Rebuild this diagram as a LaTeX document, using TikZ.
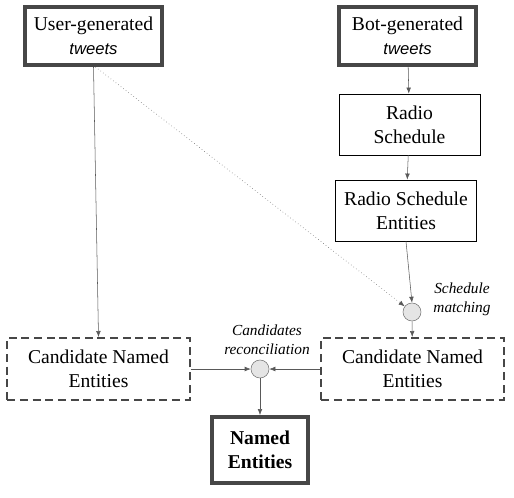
\documentclass[tikz,border=0pt]{standalone}
\usepackage{fontspec}
\setmainfont{Liberation Serif}
\newfontfamily\tweetfont{Liberation Sans}
\usetikzlibrary{arrows.meta,positioning}

\newcommand{\tw}{{\tweetfont\itshape\fontsize{12.5}{15}\selectfont tweets}}

\begin{document}
\begin{tikzpicture}[
  x=0.75pt,y=-0.75pt,
  box/.style={draw,align=center,inner sep=2pt,font=\fontsize{14.7}{18}\selectfont},
  src/.style={box,line width=3pt,draw=black!72,minimum width=103pt,minimum height=43.5pt},
  plain/.style={box,thin,minimum width=106pt,minimum height=46pt},
  cand/.style={box,line width=1.5pt,draw=black!72,dash pattern=on 6pt off 3.5pt,minimum width=137pt,minimum height=46.5pt},
  merge/.style={circle,draw=black!55,fill=black!10,thin,minimum size=13.5pt,inner sep=0pt},
  lbl/.style={align=center,font=\itshape\fontsize{11.5}{14}\selectfont},
  arr/.style={-{Latex[length=4.5pt,width=3.5pt]},draw=black!65,thin}
]
\useasboundingbox (0,0) rectangle (514,497);

\node[src] (user) at (93.5,36) {User-generated\\\tw};
\node[src] (bot) at (407.5,36) {Bot-generated\\\tw};
\node[plain] (radio) at (409.5,124.5) {Radio\\Schedule};
\node[plain] (rse) at (406,210.5) {Radio Schedule\\Entities};
\node[merge] (match) at (412,312) {};
\node[lbl] (matchlbl) at (462,299) {Schedule\\matching};
\node[cand] (cand2) at (412.5,369) {Candidate Named\\Entities};
\node[cand] (cand1) at (98.5,369) {Candidate Named\\Entities};
\node[merge] (recon) at (260,369) {};
\node[lbl] (reconlbl) at (267,340) {Candidates\\reconciliation};
\node[src,font=\bfseries\fontsize{14.7}{18}\selectfont,minimum width=72pt,minimum height=49.5pt] (named) at (260,450) {Named\\Entities};

\draw[arr] (user.south) -- (cand1.north);
\draw[arr,dotted] ([xshift=1.5pt]user.south) -- (match);
\draw[arr] (bot) -- (radio);
\draw[arr] (radio) -- (rse);
\draw[arr] (rse.south) -- (match.north);
\draw[arr] (match) -- (cand2);
\draw[arr] (cand1.east) -- (recon.west);
\draw[arr] (cand2.west) -- (recon.east);
\draw[arr] (recon) -- (named);
\end{tikzpicture}
\end{document}
